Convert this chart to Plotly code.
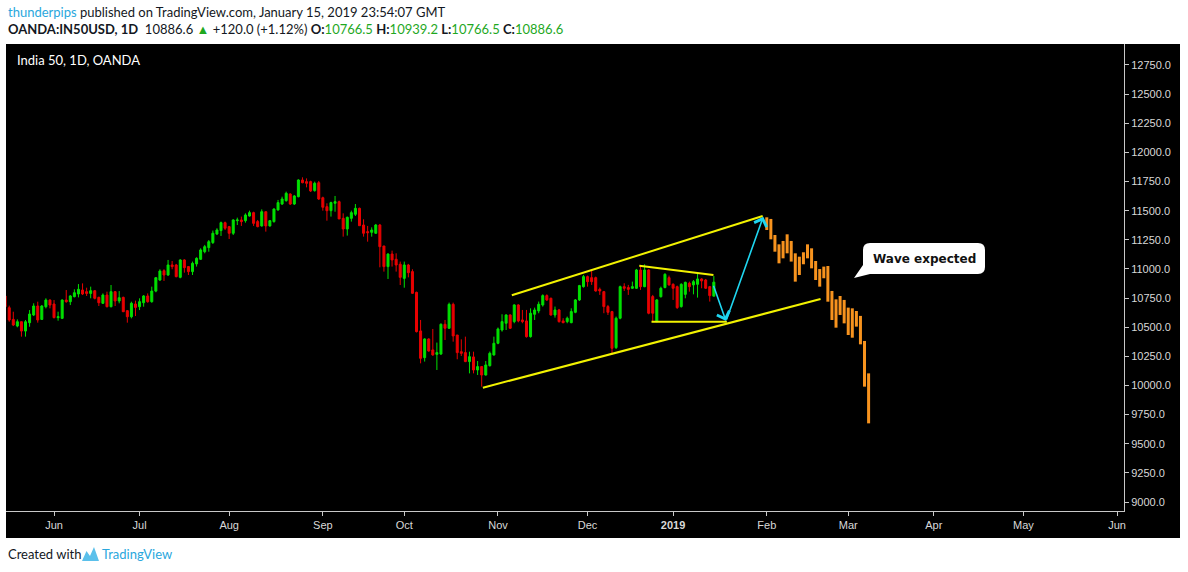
import pandas as pd
import plotly.graph_objects as go

# ---------------- data ----------------
last_bar = "2019-01-15"
opens = [10768,10667,10567,10510,10547,10467,10539,10605,10682,10567,10676,10733,10699,10582,10576,10733,10719,10762,10785,10819,
         10805,10790,10813,10756,10705,10776,10676,10805,10725,10756,10642,10590,10699,10676,10710,10768,10719,10810,10905,10985,
         10948,11034,11034,10928,11077,11020,10977,11043,11083,11148,11183,11226,11300,11329,11397,11363,11306,11414,11420,11414,
         11454,11483,11406,11369,11491,11369,11406,11506,11557,11586,11643,11557,11620,11763,11749,11749,11672,11740,11611,11534,
         11500,11563,11577,11434,11343,11434,11469,11520,11377,11320,11314,11306,11377,11197,11020,11128,11083,11040,10919,11034,
         10977,10799,10468,10239,10399,10305,10267,10270,10525,10491,10696,10433,10290,10282,10205,10245,10133,10162,10090,10170,
         10262,10362,10476,10534,10605,10548,10691,10562,10554,10419,10611,10640,10691,10771,10748,10605,10648,10554,10548,10539,
         10628,10734,10848,10934,10925,10925,10825,10805,10677,10634,10325,10577,10848,10840,10834,10834,10991,10848,10991,10763,
         10548,10762,10840,10925,10868,10848,10677,10782,10877,10863,10868,10914,10905,10848,10766.5]
highs = [10776,10685,10633,10567,10550,10562,10647,10705,10719,10690,10748,10739,10733,10633,10739,10819,10776,10825,10870,10876,
         10839,10848,10819,10762,10790,10805,10862,10810,10810,10762,10647,10719,10728,10748,10776,10790,10848,10928,10997,10997,
         11077,11068,11043,11083,11083,11025,11063,11100,11177,11206,11248,11329,11349,11406,11406,11369,11426,11440,11449,11477,
         11500,11491,11420,11511,11491,11420,11520,11592,11620,11663,11649,11634,11769,11786,11777,11757,11749,11755,11620,11563,
         11577,11626,11586,11477,11449,11500,11557,11526,11426,11369,11357,11386,11386,11197,11134,11157,11134,11063,11063,11043,
         10997,10805,10562,10405,10405,10485,10368,10533,10562,10711,10711,10433,10396,10419,10290,10290,10210,10165,10210,10291,
         10419,10497,10611,10611,10611,10697,10697,10648,10648,10662,10668,10720,10782,10782,10754,10677,10657,10577,10591,10662,
         10742,10863,10948,10943,10991,10934,10840,10811,10691,10640,10591,10857,10877,10863,10891,11000,11034,11040,10997,10777,
         10742,10848,10963,10943,10877,10857,10877,10891,10891,10905,10963,10920,10914,10854,10939.2]
lows = [10662,10547,10510,10499,10419,10419,10504,10596,10539,10562,10662,10662,10576,10556,10570,10710,10690,10756,10756,10776,
        10768,10748,10739,10682,10699,10670,10670,10682,10705,10630,10539,10576,10596,10647,10676,10710,10710,10800,10897,10897,
        10940,10997,10928,10920,10968,10948,10948,11020,11077,11134,11148,11214,11291,11283,11334,11257,11291,11377,11369,11397,
        11449,11369,11357,11363,11320,11363,11397,11500,11549,11577,11549,11549,11614,11735,11700,11660,11663,11592,11500,11414,
        11449,11491,11429,11277,11286,11406,11454,11371,11277,11234,11277,11300,11014,10977,10914,11020,10977,10862,10839,10928,
        10785,10455,10190,10205,10290,10255,10133,10262,10390,10485,10376,10225,10253,10200,10104,10104,10090,9990,10085,10162,
        10256,10354,10462,10476,10485,10534,10542,10534,10411,10411,10562,10620,10677,10725,10599,10582,10539,10534,10534,10534,
        10620,10725,10840,10848,10863,10805,10777,10620,10605,10262,10313,10568,10811,10777,10828,10828,10820,10843,10611,10548,
        10542,10754,10834,10857,10734,10657,10668,10748,10805,10782,10754,10834,10828,10720,10766.5]
closes = [10676,10562,10519,10547,10467,10547,10613,10682,10562,10682,10733,10690,10582,10590,10733,10719,10768,10796,10825,10785,
          10790,10813,10748,10710,10776,10676,10805,10725,10753,10633,10590,10705,10670,10719,10768,10719,10810,10925,10982,10948,
          11034,11020,10934,11077,11011,10977,11048,11091,11163,11191,11234,11306,11334,11397,11349,11306,11420,11420,11406,11463,
          11483,11391,11363,11491,11369,11414,11514,11569,11600,11649,11557,11626,11763,11740,11735,11669,11735,11600,11529,11500,
          11569,11577,11429,11343,11443,11483,11520,11371,11306,11311,11334,11377,11191,11020,11128,11077,11034,10928,11034,10968,
          10791,10462,10233,10399,10296,10262,10282,10525,10491,10696,10425,10282,10276,10205,10247,10133,10162,10090,10176,10276,
          10362,10485,10548,10605,10491,10691,10554,10548,10419,10620,10648,10697,10771,10734,10605,10648,10548,10539,10577,10634,
          10734,10857,10934,10891,10891,10811,10811,10677,10628,10319,10577,10848,10834,10825,10848,10991,10848,10991,10620,10620,
          10734,10834,10954,10863,10834,10668,10868,10885,10848,10891,10914,10897,10834,10771,10886.6]

# projected "wave expected" bars (bars pattern drawing)
proj_start = "2019-02-01"
proj_high = [11443,11429,11291,11211,11240,11297,11240,11134,11105,11143,11211,11177,11068,
             10999,11020,11025,10811,10739,10768,10734,10668,10662,10639,10597,10382,10104]
proj_low = [11334,11254,11148,11048,11091,11134,11063,10891,10948,11040,11091,11005,10905,
            10848,10920,10719,10562,10496,10605,10533,10433,10410,10505,10353,9990,9675]

# trend lines drawn on chart (time, price)
upper_channel_t = ["2018-11-06 21:36", "2019-01-31 12:00"]
upper_channel_p = [10774, 11454]
lower_channel_t = ["2018-10-26 19:12", "2019-02-20 16:48"]
lower_channel_p = [9981, 10742]
tri_top_t = ["2018-12-20 04:48", "2019-01-15 09:36"]
tri_top_p = [11028, 10948]
tri_base_t = ["2018-12-25 04:48", "2019-01-18 16:48"]
tri_base_p = [10547, 10547]
arrow1_t = ["2019-01-15 07:12", "2019-01-18 12:00"]
arrow1_p = [10868, 10553]
arrow2_t = ["2019-01-18 12:00", "2019-01-31 15:36"]
arrow2_p = [10553, 11448]

month_ticks = ["2018-06-01", "2018-07-02", "2018-08-01", "2018-09-03", "2018-10-01", "2018-11-01",
               "2018-12-03", "2019-01-01", "2019-02-01", "2019-03-01", "2019-04-01", "2019-05-01", "2019-06-03"]
month_labels = ["Jun", "Jul", "Aug", "Sep", "Oct", "Nov", "Dec", "<b>2019</b>", "Feb", "Mar", "Apr", "May", "Jun"]

# ---------------- build ----------------
noon = pd.Timedelta(hours=12)
dates = (pd.bdate_range(end=last_bar, periods=len(opens)) + noon).strftime("%Y-%m-%d %H:%M").tolist()
pdates = (pd.bdate_range(start=proj_start, periods=len(proj_high)) + noon).strftime("%Y-%m-%d %H:%M").tolist()
tickvals = [(pd.Timestamp(d) + noon).strftime("%Y-%m-%d %H:%M") for d in month_ticks]

W, H = 1188, 572
L, R, T, B = 6, 1124, 44, 511


def xp(px):
    return (px - L) / (R - L)


def yp(py):
    return (B - py) / (B - T)


fig = go.Figure()
fig.add_trace(go.Candlestick(
    x=dates, open=opens, high=highs, low=lows, close=closes,
    increasing=dict(line=dict(color="#00E000", width=1), fillcolor="#00E000"),
    decreasing=dict(line=dict(color="#E80000", width=1), fillcolor="#E80000"),
    showlegend=False, hoverinfo="skip"))

for tx, py_ in [(upper_channel_t, upper_channel_p), (lower_channel_t, lower_channel_p),
                (tri_top_t, tri_top_p), (tri_base_t, tri_base_p)]:
    fig.add_trace(go.Scatter(x=tx, y=py_, mode="lines", line=dict(color="#F2F200", width=2),
                             showlegend=False, hoverinfo="skip"))

bx, by = [], []
for d, hi, lo in zip(pdates, proj_high, proj_low):
    bx += [d, d, None]
    by += [lo, hi, None]
fig.add_trace(go.Scatter(x=bx, y=by, mode="lines", line=dict(color="#F7931E", width=3),
                         showlegend=False, hoverinfo="skip"))

for at, ap in [(arrow1_t, arrow1_p), (arrow2_t, arrow2_p)]:
    fig.add_annotation(x=at[1], y=ap[1], ax=at[0], ay=ap[0], xref="x", yref="y", axref="x", ayref="y",
                       showarrow=True, arrowhead=4, arrowsize=1.6, arrowwidth=1.6, arrowcolor="#1FD6F0", text="")

# black chart panel incl. axis area
fig.add_shape(type="rect", xref="paper", yref="paper", x0=0, x1=xp(1180), y0=yp(538), y1=1,
              fillcolor="black", line=dict(width=0), layer="below")

# speech bubble
bl, br, bt, bb, r = 863, 985, 243, 274, 7


def P(x, y):
    return f"{xp(x):.5f},{yp(y):.5f}"


path = (f"M{P(bl + r, bt)} L{P(br - r, bt)} Q{P(br, bt)} {P(br, bt + r)} L{P(br, bb - r)} "
        f"Q{P(br, bb)} {P(br - r, bb)} L{P(870, bb)} L{P(854, 278)} L{P(bl, 265)} L{P(bl, bt + r)} "
        f"Q{P(bl, bt)} {P(bl + r, bt)} Z")
fig.add_shape(type="path", xref="paper", yref="paper", path=path, fillcolor="white", line=dict(width=0))
fig.add_annotation(xref="paper", yref="paper", x=xp(924), y=yp(258.5), xanchor="center", yanchor="middle",
                   text="<b>Wave expected</b>", showarrow=False,
                   font=dict(family="DejaVu Sans", size=12, color="#111111"))

# TradingView logo (simple)
logo = f"M{P(82, 561)} L{P(86.5, 551)} L{P(90, 556)} L{P(94, 547)} L{P(99, 561)} Z"
fig.add_shape(type="path", xref="paper", yref="paper", path=logo, fillcolor="#5BC0EB", line=dict(width=0))

green = "#1FA81F"
blue = "#2AA7DD"
head_font = dict(family="Lato, Liberation Sans, sans-serif", size=13, color="#131722")
fig.add_annotation(xref="paper", yref="paper", x=xp(6), y=yp(12), xanchor="left", yanchor="middle",
                   showarrow=False, font=head_font,
                   text=f"<span style='color:{blue}'>thunderpips</span> published on TradingView.com, January 15, 2019 23:54:07 GMT")
fig.add_annotation(xref="paper", yref="paper", x=xp(6), y=yp(29), xanchor="left", yanchor="middle",
                   showarrow=False, font=head_font,
                   text=(f"<b>OANDA:IN50USD, 1D</b>  10886.6 <span style='color:{green}'>▲</span> +120.0 (+1.12%) "
                         f"<b>O:</b><span style='color:{green}'>10766.5</span> <b>H:</b><span style='color:{green}'>10939.2</span> "
                         f"<b>L:</b><span style='color:{green}'>10766.5</span> <b>C:</b><span style='color:{green}'>10886.6</span>"))
fig.add_annotation(xref="paper", yref="paper", x=xp(15), y=yp(60), xanchor="left", yanchor="middle",
                   showarrow=False, font=dict(family="Lato, Liberation Sans, sans-serif", size=13, color="#FFFFFF"),
                   text="India 50, 1D, OANDA")
fig.add_annotation(xref="paper", yref="paper", x=xp(6), y=yp(554), xanchor="left", yanchor="middle",
                   showarrow=False, font=head_font, text="Created with")
fig.add_annotation(xref="paper", yref="paper", x=xp(100), y=yp(554), xanchor="left", yanchor="middle",
                   showarrow=False, font=dict(family="Lato, Liberation Sans, sans-serif", size=13, color=blue),
                   text="TradingView")

axis_font = dict(family="Liberation Sans, Arial, sans-serif", size=11, color="#D8D8D8")
fig.update_layout(
    width=W, height=H, autosize=False,
    margin=dict(l=L, r=W - R, t=T, b=H - B, pad=0),
    paper_bgcolor="white", plot_bgcolor="black",
    xaxis=dict(type="date", range=["2018-05-16 17:00", "2019-06-05 05:00"],
               rangebreaks=[dict(bounds=["sat", "mon"])],
               rangeslider=dict(visible=False),
               tickmode="array", tickvals=tickvals, ticktext=month_labels,
               showgrid=False, zeroline=False, showline=True, linecolor="#C8C8C8", linewidth=1,
               ticks="outside", ticklen=4, tickcolor="#C8C8C8", tickfont=axis_font),
    yaxis=dict(side="right", range=[8923, 12930], dtick=250, tick0=9000, tickformat=".1f",
               showgrid=False, zeroline=False, showline=True, linecolor="#C8C8C8", linewidth=1,
               ticks="outside", ticklen=4, tickcolor="#C8C8C8", tickfont=axis_font),
    showlegend=False,
)

fig.write_html("out.html", config={"displayModeBar": False},
               post_script="document.body.style.margin='0';document.body.style.overflow='hidden';")
